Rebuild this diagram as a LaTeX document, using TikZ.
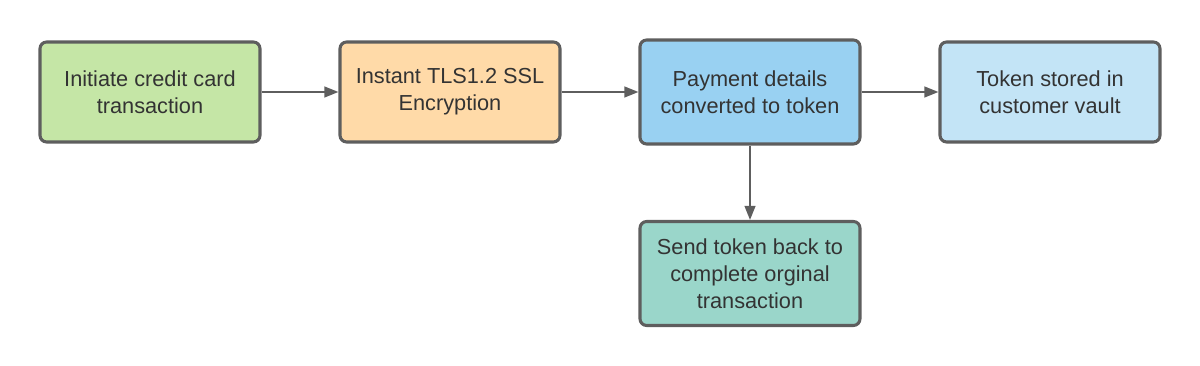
\documentclass[tikz,border=0pt]{standalone}
\usepackage{fontspec}
\setmainfont{Liberation Sans}
\usetikzlibrary{arrows.meta}
\definecolor{cgreen}{HTML}{C5E6A6}
\definecolor{corange}{HTML}{FFDAA8}
\definecolor{cblue}{HTML}{99D1F2}
\definecolor{clight}{HTML}{C3E4F6}
\definecolor{cteal}{HTML}{9AD6CA}
\definecolor{cborder}{HTML}{5E5E5E}
\definecolor{ctext}{HTML}{333333}
\tikzset{
  box/.style={draw=cborder, line width=2.3pt, rounded corners=5pt,
    minimum width=165pt, minimum height=75pt, align=center,
    text=ctext, font=\fontsize{16.3}{20.3}\selectfont, inner sep=0pt},
  conn/.style={draw=cborder, line width=1.5pt,
    -{Triangle[length=10.5pt,width=8pt]}}
}
\begin{document}
\begin{tikzpicture}[x=0.75pt,y=-0.75pt]
\useasboundingbox (0,0) rectangle (1200,366);
\node[box, fill=cgreen] (a) at (150,92) {Initiate credit card\\transaction};
\node[box, fill=corange] (b) at (450,92) {Instant TLS1.2 SSL\\Encryption};
\node[box, fill=cblue, minimum height=78pt] (c) at (750,92) {Payment details\\converted to token};
\node[box, fill=clight] (d) at (1050,92) {Token stored in\\customer vault};
\node[box, fill=cteal, minimum height=78pt] (e) at (750,273.5) {Send token back to\\complete orginal\\transaction};
\draw[conn] (a) -- (b);
\draw[conn] (b) -- (c);
\draw[conn] (c) -- (d);
\draw[conn] (c) -- (e);
\end{tikzpicture}
\end{document}
